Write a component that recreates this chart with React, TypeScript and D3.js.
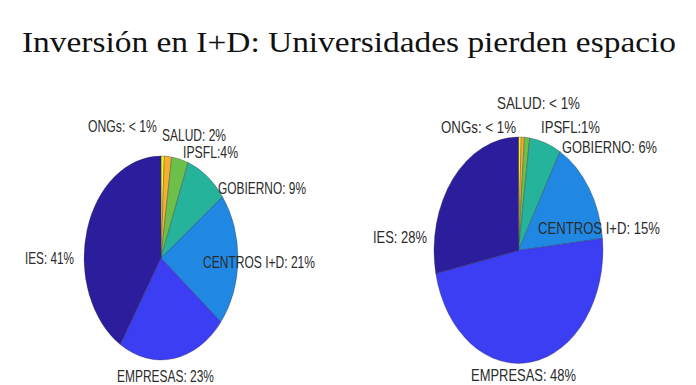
import React from "react";
import * as d3 from "d3";

// ---- data ----
const SECTORS = ["ONGs", "SALUD", "IPSFL", "GOBIERNO", "CENTROS I+D", "EMPRESAS", "IES"];
const VALUES_LEFT = [0.7, 1.5, 3.5, 9, 21, 23, 41];
const VALUES_RIGHT = [0.5, 0.6, 1, 6, 15, 48, 28];
const LABELS_LEFT = ["ONGs: < 1%", "SALUD: 2%", "IPSFL:4%", "GOBIERNO: 9%", "CENTROS I+D: 21%", "EMPRESAS: 23%", "IES: 41%"];
const LABELS_RIGHT = ["ONGs: < 1%", "SALUD: < 1%", "IPSFL:1%", "GOBIERNO: 6%", "CENTROS I+D: 15%", "EMPRESAS: 48%", "IES: 28%"];
const TITLE = "Inversión en I+D: Universidades pierden espacio";

// ---- styles / layout ----
const COLORS = ["#f7f518", "#f8ae2e", "#6cc04a", "#26b39c", "#2088e3", "#3b3ef2", "#2c1d9c"];
const W = 696;
const H = 385;

// label layout: [left x, centre y, width]
const LAYOUT_LEFT: [number, number, number][] = [
  [88, 126, 69],
  [162, 135, 64],
  [183, 152, 55],
  [218, 188, 88],
  [203, 262, 112],
  [117, 376, 97],
  [25, 258, 49],
];
const LAYOUT_RIGHT: [number, number, number][] = [
  [441, 127, 75],
  [497, 103, 83],
  [541, 127, 59],
  [562, 147, 95],
  [538, 228, 122],
  [471, 375, 105],
  [373, 237, 54],
];

type PieProps = {
  values: number[];
  labels: string[];
  layout: [number, number, number][];
  cx: number;
  cy: number;
  rx: number;
  ry: number;
};

function Pie({ values, labels, layout, cx, cy, rx, ry }: PieProps) {
  const pie = d3.pie<number>().sort(null).startAngle(0).endAngle(2 * Math.PI);
  const arcs = pie(values);
  const arc = d3.arc<d3.PieArcDatum<number>>().innerRadius(0).outerRadius(1);
  const color = d3.scaleOrdinal<string, string>().domain(SECTORS).range(COLORS);
  return (
    <g>
      <g transform={`translate(${cx},${cy}) scale(${rx},${ry})`}>
        {arcs.map((a, i) => (
          <path
            key={i}
            d={arc(a) || ""}
            fill={color(SECTORS[i])}
            stroke="#2a2a3a"
            strokeOpacity={0.55}
            strokeWidth={0.6}
            vectorEffect="non-scaling-stroke"
          />
        ))}
      </g>
      {labels.map((t, i) => {
        const [x, y, w] = layout[i];
        return (
          <text
            key={i}
            transform={`translate(${x},${y}) scale(1,1.35)`}
            textLength={w}
            lengthAdjust="spacingAndGlyphs"
            dominantBaseline="central"
            fontFamily="Liberation Sans, Arial, sans-serif"
            fontSize={12}
            fill="#2b2b2b"
          >
            {t}
          </text>
        );
      })}
    </g>
  );
}

export default function App() {
  return (
    <svg
      width={W}
      height={H}
      viewBox={`0 0 ${W} ${H}`}
      style={{ position: "absolute", left: 0, top: 0, background: "#fff" }}
    >
      <rect width={W} height={H} fill="#fff" />
      <text
        x={22}
        y={52}
        textLength={654}
        lengthAdjust="spacingAndGlyphs"
        fontFamily="Liberation Serif, Times New Roman, serif"
        fontSize={28.5}
        fill="#111"
      >
        {TITLE}
      </text>
      <Pie values={VALUES_LEFT} labels={LABELS_LEFT} layout={LAYOUT_LEFT} cx={161} cy={258} rx={77} ry={102} />
      <Pie values={VALUES_RIGHT} labels={LABELS_RIGHT} layout={LAYOUT_RIGHT} cx={518.5} cy={250.5} rx={84.5} ry={113.5} />
    </svg>
  );
}
